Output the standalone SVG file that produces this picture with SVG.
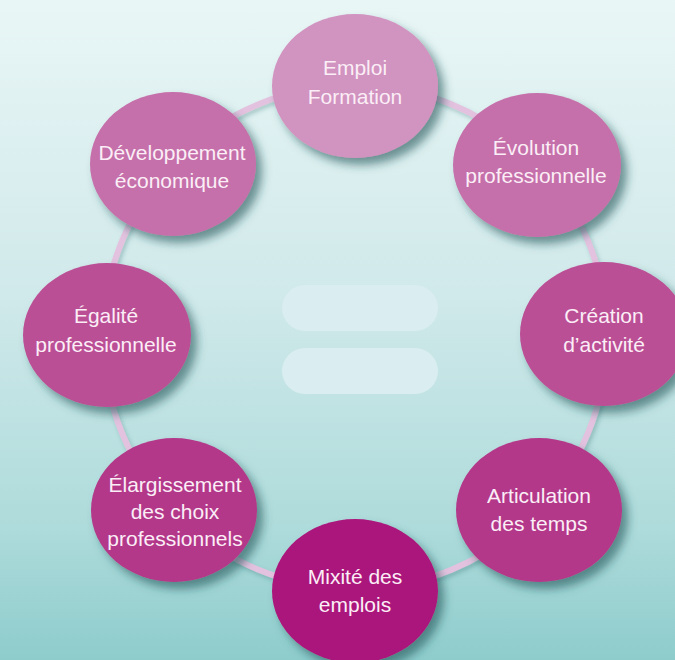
<svg xmlns="http://www.w3.org/2000/svg" width="675" height="660" viewBox="0 0 675 660">
<defs>
<linearGradient id="bg" x1="0" y1="0" x2="0" y2="1">
<stop offset="0" stop-color="#e9f6f6"/>
<stop offset="0.45" stop-color="#d0e9ea"/>
<stop offset="0.8" stop-color="#aedbdb"/>
<stop offset="1" stop-color="#8ecccc"/>
</linearGradient>
<filter id="sh" x="-20%" y="-20%" width="150%" height="150%">
<feDropShadow dx="6" dy="7" stdDeviation="5" flood-color="#1a5254" flood-opacity="0.6"/>
</filter>
<filter id="rsh" x="-10%" y="-10%" width="120%" height="120%">
<feDropShadow dx="2" dy="3" stdDeviation="2" flood-color="#2a6a6c" flood-opacity="0.3"/>
</filter>
</defs>
<style>
.lbl{font-family:"Liberation Sans",Arial,sans-serif;font-size:21px;fill:#fbeef6;text-anchor:middle}
.ring{fill:none;stroke:#e3c2df;stroke-width:6}
.eq{fill:#daedf0}
.n{filter:url(#sh)}
</style>
<rect x="0" y="0" width="675" height="660" fill="url(#bg)"/>
<g id="equals">
<rect class="eq" x="282" y="285" width="156" height="46" rx="23"/>
<rect class="eq" x="282" y="348" width="156" height="46" rx="23"/>
</g>
<g id="connectors" filter="url(#rsh)">
<path class="ring" d="M355 85 A252 252 0 0 1 533.2 158.8"/>
<path class="ring" d="M533.2 158.8 A252 252 0 0 1 607 337"/>
<path class="ring" d="M607 337 A252 252 0 0 1 533.2 515.2"/>
<path class="ring" d="M533.2 515.2 A252 252 0 0 1 355 589"/>
<path class="ring" d="M355 589 A252 252 0 0 1 176.8 515.2"/>
<path class="ring" d="M176.8 515.2 A252 252 0 0 1 103 337"/>
<path class="ring" d="M103 337 A252 252 0 0 1 176.8 158.8"/>
<path class="ring" d="M176.8 158.8 A252 252 0 0 1 355 85"/>
</g>
<g id="emploi-formation">
<ellipse class="n" cx="355" cy="86" rx="83" ry="72" fill="#d193c0"/>
<text class="lbl" x="355" y="75">Emploi</text>
<text class="lbl" x="355" y="104">Formation</text>
</g>
<g id="evolution-professionnelle">
<ellipse class="n" cx="537" cy="165" rx="84" ry="72" fill="#c570aa"/>
<text class="lbl" x="536" y="155">Évolution</text>
<text class="lbl" x="536" y="183">professionnelle</text>
</g>
<g id="creation-activite">
<ellipse class="n" cx="604" cy="334" rx="84" ry="72" fill="#bb4f96"/>
<text class="lbl" x="604" y="323">Création</text>
<text class="lbl" x="604" y="352">d’activité</text>
</g>
<g id="articulation-temps">
<ellipse class="n" cx="539" cy="510" rx="83" ry="72" fill="#b3398a"/>
<text class="lbl" x="539" y="503">Articulation</text>
<text class="lbl" x="539" y="531">des temps</text>
</g>
<g id="mixite-emplois">
<ellipse class="n" cx="355" cy="591" rx="83" ry="72" fill="#ab147c"/>
<text class="lbl" x="355" y="584">Mixité des</text>
<text class="lbl" x="355" y="612">emplois</text>
</g>
<g id="elargissement-choix">
<ellipse class="n" cx="174" cy="510" rx="83" ry="72" fill="#b3398a"/>
<text class="lbl" x="175" y="492">Élargissement</text>
<text class="lbl" x="175" y="519">des choix</text>
<text class="lbl" x="175" y="546">professionnels</text>
</g>
<g id="egalite-professionnelle">
<ellipse class="n" cx="107" cy="335" rx="84" ry="72" fill="#bb4f96"/>
<text class="lbl" x="106" y="323">Égalité</text>
<text class="lbl" x="106" y="352">professionnelle</text>
</g>
<g id="developpement-economique">
<ellipse class="n" cx="173" cy="164" rx="83" ry="72" fill="#c570aa"/>
<text class="lbl" x="172" y="160">Développement</text>
<text class="lbl" x="172" y="188">économique</text>
</g>
</svg>
